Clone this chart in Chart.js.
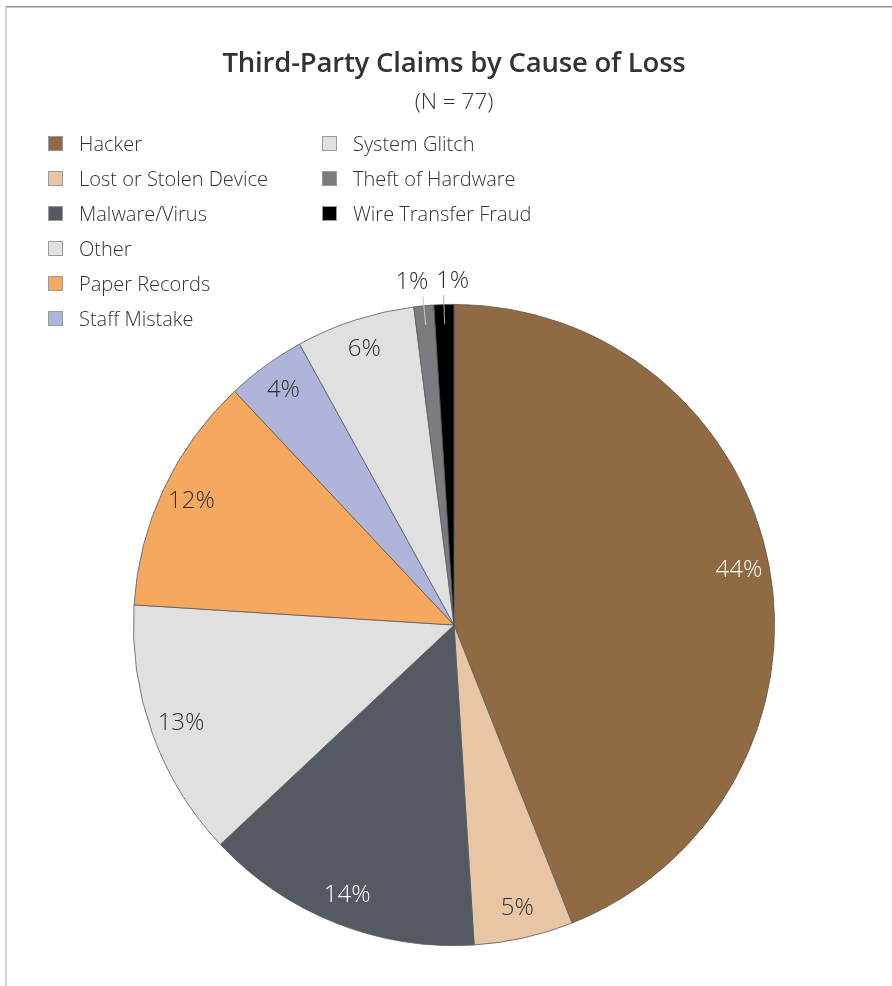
<!DOCTYPE html>
<html>
<head>
<meta charset="utf-8">
<script src="https://cdn.jsdelivr.net/npm/chart.js@4"></script>
<style>
  html, body { margin: 0; padding: 0; background: #fff; }
  body { width: 892px; height: 986px; position: relative; overflow: hidden; font-family: "Open Sans", "Noto Sans", sans-serif; }
  .frame { position: absolute; left: 5px; top: 6px; right: -10px; bottom: -10px;
           border-top: 1px solid #8c8c8c; border-left: 2px solid #d0d0d0; box-shadow: inset 0 1px 0 #c8c8c8; }
  #wrap { position: absolute; left: 0; top: 0; width: 892px; height: 986px; }
  .title { position: absolute; left: 0; width: 908px; top: 43px; text-align: center; font-size: 27.5px; font-weight: 600; color: #333; letter-spacing: -0.2px; }
  .sub { position: absolute; left: 0; width: 908px; top: 85px; text-align: center; font-size: 22.5px; font-weight: 300; color: #333; }
  #legend { position: absolute; left: 48px; top: 131px; display: grid; grid-auto-flow: column;
            grid-template-rows: repeat(6, 35px); grid-template-columns: 274px 260px; }
  .item { display: flex; align-items: center; height: 24px; font-size: 20px; font-weight: 300; color: #333; }
  .box { width: 15px; height: 15px; box-sizing: border-box; border: 1px solid #9a9a9a; margin-right: 16px; }
</style>
</head>
<body>
<div class="frame"></div>
<div id="wrap"><canvas id="pieChart" width="892" height="986"></canvas></div>
<div class="title">Third-Party Claims by Cause of Loss</div>
<div class="sub">(N = 77)</div>
<div id="legend"></div>
<script>
// claims share by cause of loss, in percent
const causes = ['Hacker', 'Lost or Stolen Device', 'Malware/Virus', 'Other', 'Paper Records',
                'Staff Mistake', 'System Glitch', 'Theft of Hardware', 'Wire Transfer Fraud'];
const shares = [44, 5, 14, 13, 12, 4, 6, 1, 1];
const sliceColors = ['#8f6a43', '#e8c6a3', '#555a62', '#dfe0df', '#f6a85f',
                     '#afb5da', '#dfe0df', '#7b7c80', '#000000'];
const labelColors = ['#ffffff', '#2e2e2e', '#ffffff', '#2e2e2e', '#2e2e2e',
                     '#2e2e2e', '#2e2e2e', '#2e2e2e', '#2e2e2e'];

// legend, two columns of six rows
const legendEl = document.getElementById('legend');
causes.forEach((c, i) => {
    const item = document.createElement('div');
    item.className = 'item';
    item.innerHTML = '<span class="box" style="background:' + sliceColors[i] + '"></span>' + c;
    legendEl.appendChild(item);
});

// percent labels inside the slices, tiny slices get a leader line above the pie
const sliceLabels = {
    id: 'sliceLabels',
    afterDatasetsDraw(chart) {
        const ctx = chart.ctx;
        const arcs = chart.getDatasetMeta(0).data;
        ctx.save();
        ctx.font = '300 24px "Open Sans", "Noto Sans", sans-serif';
        ctx.textAlign = 'center';
        ctx.textBaseline = 'middle';
        let small = 0;
        arcs.forEach((arc, i) => {
            const p = arc.getProps(['x', 'y', 'startAngle', 'endAngle', 'outerRadius'], true);
            const mid = (p.startAngle + p.endAngle) / 2;
            const text = shares[i] + '%';
            if (shares[i] <= 1) {
                const x1 = p.x + Math.cos(mid) * p.outerRadius * 0.94;
                const y1 = p.y + Math.sin(mid) * p.outerRadius * 0.94;
                const x2 = p.x + Math.cos(mid) * p.outerRadius * 1.03;
                const y2 = p.y + Math.sin(mid) * p.outerRadius * 1.03;
                ctx.strokeStyle = i === causes.length - 1 ? '#aaaaaa' : '#c8c8c8';
                ctx.lineWidth = 1;
                ctx.beginPath();
                ctx.moveTo(x1, y1);
                ctx.lineTo(x2, y2);
                ctx.stroke();
                ctx.fillStyle = labelColors[i];
                ctx.fillText(text, x2 + (small === 0 ? -11 : 9), y2 - 14);
                small++;
            } else {
                const r = p.outerRadius * 0.905;
                ctx.fillStyle = labelColors[i];
                ctx.fillText(text, p.x + Math.cos(mid) * r, p.y + Math.sin(mid) * r);
            }
        });
        ctx.restore();
    }
};

const ctxPie = document.getElementById('pieChart');

new Chart(ctxPie, {
    type: 'pie',
    data: {
        labels: causes,
        datasets: [{
            data: shares,
            backgroundColor: sliceColors,
            borderColor: '#5a5a5a',
            borderWidth: 0.8
        }]
    },
    options: {
        responsive: false,
        animation: false,
        layout: { padding: { top: 304, bottom: 40, left: 133, right: 117 } },
        plugins: {
            legend: { display: false },
            tooltip: { enabled: false },
            title: { display: false }
        }
    },
    plugins: [sliceLabels]
});
</script>
</body>
</html>
